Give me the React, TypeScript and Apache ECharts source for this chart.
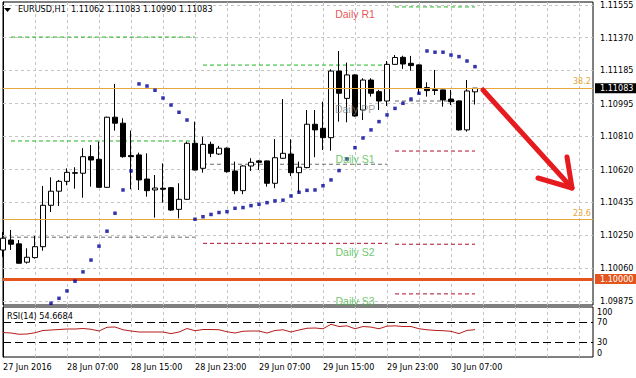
import React, { useEffect, useRef } from 'react';
import * as echarts from 'echarts';

const TITLE = 'EURUSD,H1  1.11062 1.11083 1.10990 1.11083';
const RSI_TITLE = 'RSI(14) 54.6684';
const TIME_TICKS = ['27 Jun 2016', '28 Jun 07:00', '28 Jun 15:00', '28 Jun 23:00', '29 Jun 07:00', '29 Jun 15:00', '29 Jun 23:00', '30 Jun 07:00'];
const PRICE_TICKS = [1.11555, 1.1137, 1.11185, 1.10995, 1.1081, 1.1062, 1.10435, 1.1025, 1.1006, 1.09875];
const RSI_TICKS = [0, 30, 70, 100];

// [open, close, low, high]
const CANDLES: number[][] = [
  [1.10164, 1.10231, 1.10126, 1.10267],
  [1.10221, 1.10197, 1.10164, 1.10278],
  [1.10199, 1.10089, 1.10088, 1.10221],
  [1.10095, 1.10123, 1.10087, 1.10174],
  [1.10121, 1.10183, 1.10115, 1.10244],
  [1.10183, 1.10418, 1.1016, 1.10528],
  [1.10418, 1.10498, 1.1038, 1.10577],
  [1.10498, 1.10554, 1.10414, 1.10562],
  [1.10554, 1.10605, 1.10532, 1.10628],
  [1.10603, 1.106, 1.10512, 1.10634],
  [1.106, 1.10694, 1.10461, 1.10742],
  [1.10694, 1.10675, 1.10524, 1.1076],
  [1.10679, 1.1052, 1.10519, 1.10779],
  [1.1052, 1.10918, 1.10517, 1.10921],
  [1.10918, 1.10884, 1.10842, 1.11107],
  [1.10884, 1.10694, 1.10688, 1.10912],
  [1.107, 1.10694, 1.10509, 1.10842],
  [1.10704, 1.10562, 1.10505, 1.10717],
  [1.10567, 1.10501, 1.10467, 1.10713],
  [1.10505, 1.10516, 1.10348, 1.1059],
  [1.10515, 1.10509, 1.10433, 1.10656],
  [1.10518, 1.10391, 1.10386, 1.10522],
  [1.10395, 1.10452, 1.10344, 1.10543],
  [1.10452, 1.1077, 1.10448, 1.10779],
  [1.1077, 1.10618, 1.10616, 1.10893],
  [1.10628, 1.10764, 1.10603, 1.10807],
  [1.10764, 1.10713, 1.10691, 1.10779],
  [1.10709, 1.10742, 1.10704, 1.10755],
  [1.10742, 1.10609, 1.10603, 1.10747],
  [1.10613, 1.10501, 1.10481, 1.10666],
  [1.10501, 1.10641, 1.10481, 1.10645],
  [1.10641, 1.10662, 1.10613, 1.10685],
  [1.1067, 1.10662, 1.10618, 1.10675],
  [1.1067, 1.10543, 1.10524, 1.10672],
  [1.10543, 1.10688, 1.10515, 1.10794],
  [1.10685, 1.10713, 1.10681, 1.11021],
  [1.10709, 1.10603, 1.10584, 1.10793],
  [1.10603, 1.10634, 1.1049, 1.10666],
  [1.10632, 1.10878, 1.10628, 1.10959],
  [1.10878, 1.10846, 1.10691, 1.10959],
  [1.10855, 1.10802, 1.10732, 1.11006],
  [1.10802, 1.1118, 1.10728, 1.1119],
  [1.1118, 1.11054, 1.10893, 1.11294],
  [1.11025, 1.11158, 1.10889, 1.11228],
  [1.11158, 1.10925, 1.10921, 1.11162],
  [1.10959, 1.11129, 1.10902, 1.11139],
  [1.11129, 1.11054, 1.11035, 1.11139],
  [1.11063, 1.1101, 1.10959, 1.11073],
  [1.1101, 1.11218, 1.10982, 1.11237],
  [1.11218, 1.11257, 1.11215, 1.11271],
  [1.11258, 1.1122, 1.11192, 1.11267],
  [1.11224, 1.11211, 1.11182, 1.11266],
  [1.11215, 1.11082, 1.1105, 1.11218],
  [1.11086, 1.11069, 1.11035, 1.11116],
  [1.11074, 1.1107, 1.11044, 1.11186],
  [1.11073, 1.11016, 1.10978, 1.11075],
  [1.11021, 1.11006, 1.10987, 1.11073],
  [1.1101, 1.10846, 1.10842, 1.11012],
  [1.10846, 1.11067, 1.10836, 1.11129],
  [1.11062, 1.11083, 1.1099, 1.11083],
];

const SAR: (number | null)[] = [
  null, null, null, null, null, null,
  1.09862, 1.0989, 1.09932, 1.09987, 1.1004, 1.10107, 1.10186, 1.10271, 1.10373, 1.10505, 1.10613,
  1.11107, 1.11095, 1.11071, 1.11027, 1.10987, 1.10946, 1.10902,
  1.10339, 1.10353, 1.10366, 1.10377, 1.10382, 1.10401, 1.10405, 1.10416, 1.10424, 1.10433, 1.10443,
  1.10447, 1.10471, 1.10492, 1.10503, 1.10505, 1.10529, 1.10562, 1.10615, 1.10681, 1.10745, 1.108,
  1.10846, 1.10893, 1.10931, 1.10968, 1.10997, 1.11021, 1.11054,
  1.11294, 1.11287, 1.11287, 1.11271, 1.11262, 1.11237, 1.11205,
];

const RSI = [
  49, 48, 45.5, 46, 48.5, 53, 54, 55, 56, 56, 57, 55.5, 52, 59.5, 60, 54.5, 52, 50, 50, 50,
  50, 46.8, 50, 57, 52.6, 55, 55, 54.5, 50.5, 48, 51.5, 52, 52, 48, 53, 54.5, 50, 54, 57.5, 58,
  56.5, 65.5, 61, 62.3, 56.5, 61, 59.8, 56.5, 61.7, 62.3, 61, 61, 56.5, 54.5, 53.2, 52.6, 51.3, 46.8, 53.2, 54.6684,
];

// daily pivot segments: [fromBar, toBar, level, kind]
const PIVOTS: [number, number, number, string][] = [
  [1, 24, 1.11373, 'R'],
  [1, 24, 1.10783, 'R'],
  [0, 24, 1.10237, 'P'],
  [25, 48, 1.11214, 'R'],
  [25, 48, 1.10651, 'P'],
  [25, 48, 1.10202, 'S'],
  [49, 59, 1.11544, 'R'],
  [49, 59, 1.1101, 'P'],
  [49, 59, 1.10726, 'S'],
  [49, 59, 1.10197, 'S'],
  [49, 59, 1.09915, 'S'],
];
const PIVOT_LABELS: [string, number, string][] = [
  ['Daily R1', 1.11544, 'R'],
  ['Daily PP', 1.1101, 'P'],
  ['Daily S1', 1.10726, 'S'],
  ['Daily S2', 1.10197, 'S'],
  ['Daily S3', 1.09915, 'S'],
];
const PIVOT_LABEL_BAR = 44;
const FIBO: [string, number][] = [
  ['38.2', 1.11084],
  ['23.6', 1.10339],
];
const BID = 1.11083;
const ROUND_LEVEL = 1.1;

const Y_MIN = 1.09852;
const Y_MAX = 1.11572;
const X_MAX = 73.75;

const FONT = "'DejaVu Sans Condensed', 'DejaVu Sans', sans-serif";
const LFONT = "'Liberation Sans', Arial, sans-serif";

export default function App() {
  const ref = useRef<HTMLDivElement>(null);
  useEffect(() => {
    const chart = echarts.init(ref.current!, null, { renderer: 'svg' });
    const candleData = CANDLES.map((c, i) => [i, c[0], c[1], c[2], c[3]]);
    const sarData = SAR.map((v, i) => [i, v]).filter((d) => d[1] != null);
    const rsiData = RSI.map((v, i) => [i, v]);
    const vgrid: number[] = [];
    for (let x = 4; x < X_MAX; x += 4) vgrid.push(x);
    const gridLine = { color: '#c4c4c4', type: [3, 3], width: 1 };
    const pivotColor: Record<string, string> = { R: '#1fb51f', P: '#6a6a6a', S: '#b01030' };
    const labelColor: Record<string, string> = { R: '#e02828', P: '#888888', S: '#45b845' };
    const fullLine = (lv: number, lineStyle: any, label: any) => [
      { coord: [0, lv], lineStyle, label },
      { coord: [X_MAX, lv] },
    ];
    const pivotSeries = PIVOTS.map(([a, b, lv, k]) => ({
      type: 'line', xAxisIndex: 0, yAxisIndex: 0, silent: true, z: 2,
      showSymbol: false, symbol: 'none', color: pivotColor[k],
      data: [[a, lv], [b, lv]],
      lineStyle: { color: pivotColor[k], type: [4, 3], width: 1 },
    }));

    const option: any = {
      animation: false,
      backgroundColor: '#ffffff',
      grid: [
        { left: 3, right: 43, top: 2, height: 303, show: true, borderColor: '#000', borderWidth: 1, backgroundColor: '#fff', containLabel: false, outerBoundsMode: 'none' },
        { left: 3, right: 43, top: 307, height: 50, show: true, borderColor: '#000', borderWidth: 1, backgroundColor: '#fff', containLabel: false, outerBoundsMode: 'none' },
      ],
      xAxis: [
        { type: 'value', gridIndex: 0, min: 0, max: X_MAX, interval: 8, axisLabel: { show: false }, axisLine: { show: false }, axisTick: { show: false }, splitLine: { show: false } },
        {
          type: 'value', gridIndex: 1, min: 0, max: X_MAX, interval: 8,
          axisLine: { show: false }, axisTick: { show: false }, splitLine: { show: false },
          axisLabel: {
            show: true, align: 'left', margin: 5, fontFamily: FONT, fontSize: 9, color: '#000',
            showMaxLabel: false,
            formatter: (v: number) => (v % 8 === 0 && TIME_TICKS[v / 8]) || '',
          },
        },
      ],
      yAxis: [
        {
          type: 'value', gridIndex: 0, position: 'right', min: Y_MIN, max: Y_MAX,
          axisLine: { show: true, lineStyle: { color: '#000' } },
          axisTick: { show: true, length: 3, customValues: PRICE_TICKS, lineStyle: { color: '#000' } },
          axisLabel: { customValues: PRICE_TICKS, margin: 7, fontFamily: FONT, fontSize: 9, color: '#000', formatter: (v: number) => v.toFixed(5) },
          splitLine: { show: false },
        },
        {
          type: 'value', gridIndex: 1, position: 'right', min: 0, max: 100, interval: 10,
          axisLine: { show: true, lineStyle: { color: '#000' } },
          axisTick: { show: false },
          axisLabel: {
            margin: 4, fontFamily: FONT, fontSize: 9, color: '#000',
            verticalAlignMinLabel: 'bottom', verticalAlignMaxLabel: 'top',
            formatter: (v: number) => (RSI_TICKS.includes(v) ? String(v) : ''),
          },
          splitLine: { show: false },
        },
      ],
      series: [
        {
          type: 'line', xAxisIndex: 0, yAxisIndex: 0, data: [], silent: true,
          markLine: {
            silent: true, symbol: 'none', z: 1, animation: false,
            lineStyle: gridLine, label: { show: false },
            data: [
              ...PRICE_TICKS.map((v) => [{ coord: [0, v] }, { coord: [X_MAX, v] }]),
              ...vgrid.map((x) => [{ coord: [x, Y_MIN] }, { coord: [x, Y_MAX] }]),
            ],
          },
        },
        {
          type: 'line', xAxisIndex: 1, yAxisIndex: 1, data: [], silent: true,
          markLine: {
            silent: true, symbol: 'none', z: 1, animation: false,
            lineStyle: gridLine, label: { show: false },
            data: vgrid.map((x) => [{ coord: [x, 0] }, { coord: [x, 100] }]),
          },
        },
        ...pivotSeries,
        {
          type: 'candlestick', xAxisIndex: 0, yAxisIndex: 0, z: 3, barWidth: 5,
          data: candleData,
          itemStyle: { color: '#ffffff', color0: '#000000', borderColor: '#000000', borderColor0: '#000000', borderWidth: 1 },
        },
        {
          type: 'line', xAxisIndex: 0, yAxisIndex: 0, data: [], silent: true,
          markLine: {
            silent: true, symbol: 'none', z: 4, animation: false,
            data: [
              ...FIBO.map(([name, lv]) => fullLine(lv,
                { color: '#e9a63a', type: 'solid', width: 1 },
                { show: true, position: 'insideEndTop', distance: 2, formatter: name, color: '#e9a63a', fontFamily: FONT, fontSize: 9 })),
              fullLine(ROUND_LEVEL,
                { color: '#e4541c', type: 'solid', width: 3 },
                { show: true, position: 'end', distance: 2, formatter: ROUND_LEVEL.toFixed(5), color: '#fff', backgroundColor: '#e4541c', padding: [1, 5, 0, 5], fontFamily: FONT, fontSize: 9 }),
              fullLine(BID,
                { color: 'rgba(0,0,0,0)', type: 'solid', width: 1 },
                { show: true, position: 'end', distance: 2, formatter: BID.toFixed(5), color: '#ffffff', backgroundColor: '#000000', padding: [1, 5, 0, 5], fontFamily: FONT, fontSize: 9 }),
            ],
          },
        },
        {
          type: 'scatter', xAxisIndex: 0, yAxisIndex: 0, z: 5, symbol: 'rect', symbolSize: 3.5,
          itemStyle: { color: '#00009c' }, data: sarData, silent: true,
        },
        {
          type: 'scatter', xAxisIndex: 0, yAxisIndex: 0, z: 6, symbolSize: 0, silent: true,
          data: PIVOT_LABELS.map(([name, lv, k]) => ({
            value: [PIVOT_LABEL_BAR, lv],
            label: {
              show: true, position: 'bottom', distance: 2, formatter: name,
              color: labelColor[k], fontFamily: LFONT, fontSize: 10.5,
            },
          })),
        },
        {
          type: 'line', xAxisIndex: 1, yAxisIndex: 1, data: rsiData, showSymbol: false, silent: true,
          lineStyle: { color: '#b41e1e', width: 1 }, itemStyle: { color: '#b41e1e' },
          markLine: {
            silent: true, symbol: 'none', z: 3, animation: false, label: { show: false },
            lineStyle: { color: '#000', type: [8, 4], width: 1 },
            data: [
              [{ coord: [0, 70] }, { coord: [X_MAX, 70] }],
              [{ coord: [0, 30] }, { coord: [X_MAX, 30] }],
            ],
          },
        },
      ],
      graphic: [
        { type: 'polygon', shape: { points: [[4, 8], [11, 8], [7.5, 12]] }, style: { fill: '#000' }, z: 10 },
        { type: 'text', left: 18, top: 4, z: 10, style: { text: TITLE, fontFamily: FONT, fontSize: 9, fill: '#000' } },
        { type: 'text', left: 7, top: 311, z: 10, style: { text: RSI_TITLE, fontFamily: FONT, fontSize: 9, fill: '#000' } },
        {
          type: 'polyline', z: 10,
          shape: { points: [[483, 90], [572, 188]] },
          style: { stroke: '#e51b1f', lineWidth: 5, lineCap: 'round', lineJoin: 'round', fill: null },
        },
        {
          type: 'polyline', z: 10,
          shape: { points: [[538, 178], [572, 188], [567, 157]] },
          style: { stroke: '#e51b1f', lineWidth: 5, lineCap: 'round', lineJoin: 'round', fill: null },
        },
      ],
    };
    chart.setOption(option);
    return () => chart.dispose();
  }, []);
  return <div ref={ref} style={{ position: 'fixed', left: 0, top: 0, width: 636, height: 378 }} />;
}
